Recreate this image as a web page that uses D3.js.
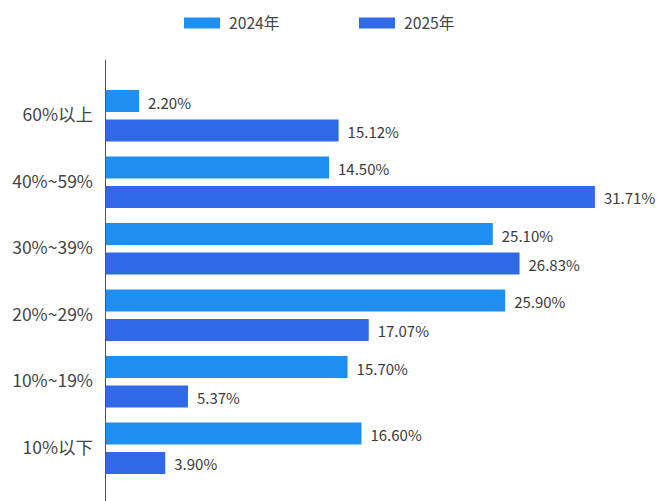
<!DOCTYPE html>
<html>
<head>
<meta charset="utf-8">
<script src="https://cdn.jsdelivr.net/npm/d3@7/dist/d3.min.js"></script>
<style>
  html, body { margin: 0; padding: 0; background: #ffffff; }
  svg { display: block; font-family: "Noto Sans CJK SC", "Noto Sans", sans-serif; }
</style>
</head>
<body>
<div id="chart"></div>
<script>
// Share of respondents per range, by year
const categories = ["60%以上", "40%~59%", "30%~39%", "20%~29%", "10%~19%", "10%以下"];
const seriesNames = ["2024年", "2025年"];
const values2024 = [2.20, 14.50, 25.10, 25.90, 15.70, 16.60];
const values2025 = [15.12, 31.71, 26.83, 17.07, 5.37, 3.90];
const seriesColors = ["#1f8fef", "#2f69e6"];

const width = 660, height = 501;
const axisX = 105;

const svg = d3.select("#chart").append("svg")
  .attr("width", width)
  .attr("height", height);

const x = d3.scaleLinear().domain([0, 35]).range([axisX, axisX + 35 * 15.45]);

const y = d3.scaleBand()
  .domain(categories)
  .range([82.5, 481.5])
  .paddingInner(0.2256)
  .paddingOuter(0.1128);

const ySub = d3.scaleBand()
  .domain(seriesNames)
  .range([0, y.bandwidth()])
  .paddingInner(0.254)
  .paddingOuter(0);

const color = d3.scaleOrdinal().domain(seriesNames).range(seriesColors);

const rows = categories.map((c, i) => ({
  category: c,
  items: [
    { series: seriesNames[0], value: values2024[i] },
    { series: seriesNames[1], value: values2025[i] }
  ]
}));

// Legend
const legend = svg.append("g");
const legendX = [184, 359];
seriesNames.forEach((s, i) => {
  legend.append("rect")
    .attr("x", legendX[i]).attr("y", 17.5)
    .attr("width", 36).attr("height", 11)
    .attr("fill", color(s));
  legend.append("text")
    .attr("x", legendX[i] + 45).attr("y", 22.5)
    .attr("dominant-baseline", "central")
    .attr("font-size", 15.7)
    .attr("fill", "#444")
    .text(s);
});

// Bars and value labels
const groups = svg.append("g").selectAll("g")
  .data(rows)
  .join("g")
  .attr("transform", d => `translate(0,${y(d.category)})`);

groups.selectAll("rect")
  .data(d => d.items)
  .join("rect")
  .attr("x", x(0))
  .attr("y", d => ySub(d.series))
  .attr("width", d => x(d.value) - x(0))
  .attr("height", ySub.bandwidth())
  .attr("fill", d => color(d.series));

groups.selectAll("text.value")
  .data(d => d.items)
  .join("text")
  .attr("class", "value")
  .attr("x", d => x(d.value) + 9)
  .attr("y", d => ySub(d.series) + ySub.bandwidth() / 2 + 1)
  .attr("dominant-baseline", "central")
  .attr("font-size", 15)
  .attr("fill", "#3a3a3a")
  .text(d => d3.format(".2f")(d.value) + "%");

// Category axis
const yAxis = d3.axisLeft(y).tickSize(0).tickPadding(12);
const axisG = svg.append("g")
  .attr("transform", `translate(${axisX},0)`)
  .call(yAxis);
axisG.select(".domain").remove();
axisG.selectAll("text")
  .attr("font-size", 17.5)
  .attr("fill", "#444")
  .attr("font-family", "\"Noto Sans CJK SC\", sans-serif");

svg.append("line")
  .attr("x1", axisX + 0.5).attr("x2", axisX + 0.5)
  .attr("y1", 60).attr("y2", height)
  .attr("stroke", "#555")
  .attr("stroke-width", 1);
</script>
</body>
</html>
